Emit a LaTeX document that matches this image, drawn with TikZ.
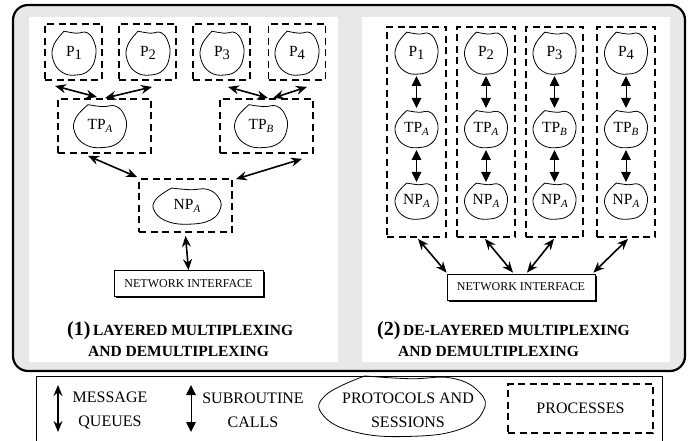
\documentclass[tikz,border=0pt]{standalone}
\usepackage{fontspec}
\setmainfont{Liberation Serif}
\usetikzlibrary{arrows.meta,shadows,calc}
\definecolor{panelgray}{RGB}{232,232,232}
\newcommand\blobaround[3]{%
  \begin{scope}[shift={(#1)},x=#2pt,y=#3pt]
    \draw[blobline] plot[smooth,tension=0.75] coordinates {(-0.45,0.97) (0.1,0.88) (0.6,0.9)
      (0.93,0.45) (0.98,-0.15) (0.7,-0.75) (0.1,-0.98) (-0.55,-0.85) (-0.95,-0.3)
      (-0.92,0.35) (-0.45,0.97)} -- cycle;
  \end{scope}}
\newcommand\Pn[1]{P\raisebox{-2.5pt}{\fontsize{14.5}{15}\selectfont #1}}
\newcommand\Tsub[2]{#1\raisebox{-3.5pt}{\fontsize{11}{12}\selectfont\itshape #2}}
\begin{document}
\begin{tikzpicture}[x=1pt,y=-1pt,
  blobline/.style={line width=0.8pt,line join=miter},
  lbl/.style={inner sep=0pt,font=\fontsize{15.5}{17}\selectfont},
  procbox/.style={draw,line width=1.8pt,dash pattern=on 7pt off 4.5pt,inner sep=0pt},
  nibox/.style={draw,fill=white,line width=0.7pt,inner sep=0pt,minimum height=26pt,
    font=\fontsize{12}{13}\selectfont,
    general shadow={fill=black,shadow xshift=1.6pt,shadow yshift=-1.6pt}},
  msg/.style={{Stealth[length=11pt,width=9pt]}-{Stealth[length=11pt,width=9pt]},line width=1.6pt},
  sub/.style={{Triangle[length=10pt,width=9.5pt]}-{Triangle[length=10pt,width=9.5pt]},line width=1pt},
  legtext/.style={align=center,inner sep=0pt,font=\fontsize{16}{24}\selectfont},
  titletext/.style={inner sep=0pt,anchor=base west,font=\fontsize{15.5}{17}\selectfont\bfseries}]
\useasboundingbox (0,0) rectangle (691,441);
% frame and panels
\draw[line width=2.2pt,fill=panelgray,rounded corners=15pt] (13,5) rectangle (685,371);
\fill[white] (29,17) rectangle (338,362);
\fill[white] (362,17) rectangle (670,362);

% ---------- left panel ----------
\node[procbox,minimum width=57pt,minimum height=56pt] (lb1) at (73.5,52) {};
\node[procbox,minimum width=57pt,minimum height=56pt] (lb2) at (147.5,52) {};
\node[procbox,minimum width=57pt,minimum height=56pt] (lb3) at (221.5,52) {};
\node[procbox,minimum width=57pt,minimum height=56pt] (lb4) at (297,52) {};
\node[lbl] (lp1) at (74,53) {\Pn{1}};
\node[lbl] (lp2) at (148,53) {\Pn{2}};
\node[lbl] (lp3) at (222,53) {\Pn{3}};
\node[lbl] (lp4) at (297,53) {\Pn{4}};
\blobaround{lp1}{22}{22.5}
\blobaround{lp2}{22}{22.5}
\blobaround{lp3}{22}{22.5}
\blobaround{lp4}{22}{22.5}

\node[procbox,minimum width=93pt,minimum height=54pt] (tpa) at (104.5,126) {};
\node[procbox,minimum width=93pt,minimum height=54pt] (tpb) at (266.5,126) {};
\node[lbl] (ltpa) at (100,126) {\Tsub{TP}{A}};
\node[lbl] (ltpb) at (261,126) {\Tsub{TP}{B}};
\blobaround{ltpa}{26.5}{22}
\blobaround{ltpb}{26.5}{22}

\node[procbox,minimum width=93pt,minimum height=53pt] (npa) at (185.5,205.5) {};
\node[lbl] (lnpa) at (187,206) {\Tsub{NP}{A}};
\blobaround{lnpa}{34}{18.5}

\node[nibox,minimum width=149pt] (ni) at (188.5,283.5) {NETWORK INTERFACE};

\draw[msg] ($(lb1.south)+(-18.5,5)$) -- ($(tpa.north)+(-7.5,-1)$);
\draw[msg] ($(lb2.south)+(4.5,6)$) -- ($(tpa.north)+(0.5,0)$);
\draw[msg] ($(lb3.south)+(6.5,6)$) -- ($(tpb.north)+(1.5,0)$);
\draw[msg] ($(lb4.south)+(10,6)$) -- ($(tpb.north)+(6.5,0)$);
\draw[msg] ($(tpa.south)+(-16.5,2)$) -- ($(npa.north west)+(-1,-1)$);
\draw[msg] ($(tpb.south)+(35.5,5)$) -- ($(npa.north east)+(3,1)$);
\draw[msg] ($(npa.south)+(0,3)$) -- (ni.north);

\node[titletext] (t1a) at (67,335) {{\fontsize{20}{22}\selectfont(1)}\,LAYERED MULTIPLEXING};
\node[titletext] (t1b) at (88,356) {AND DEMULTIPLEXING};

% ---------- right panel ----------
\foreach \i/\cx/\w/\tp in {1/416.5/59/A,2/486/58/A,3/554.5/57/B,4/626/58/B}{
  \node[procbox,minimum width=\w pt,minimum height=210pt] (rb\i) at (\cx,132) {};
  \node[lbl] (rp\i) at (\cx,53) {\Pn{\i}};
  \node[lbl] (rt\i) at (\cx,129) {\Tsub{TP}{\tp}};
  \node[lbl] (rn\i) at (\cx,201) {\Tsub{NP}{A}};
  \blobaround{rp\i}{21.5}{21.5}
  \blobaround{rt\i}{21.5}{19}
  \blobaround{rn\i}{21.5}{18.5}
  \draw[sub] ($(rp\i)+(0,23)$) -- ($(rt\i)+(0,-21)$);
  \draw[sub] ($(rt\i)+(0,21)$) -- ($(rn\i)+(0,-19)$);
}
\node[nibox,minimum width=148pt] (rni) at (521,287) {NETWORK INTERFACE};
\draw[msg] ($(rb1.south)+(1.5,1)$) -- ($(rni.north west)+(0,-1)$);
\draw[msg] ($(rb2.south)+(-1,1)$) -- ($(rni.north)+(-8,-1)$);
\draw[msg] ($(rb3.south)+(-0.5,1)$) -- ($(rni.north)+(6,-1)$);
\draw[msg] ($(rb4.south)+(2,1)$) -- ($(rni.north east)+(-2,-1)$);

\node[titletext] (t2a) at (377,335) {{\fontsize{20}{22}\selectfont(2)}\,DE-LAYERED MULTIPLEXING};
\node[titletext] (t2b) at (398,356) {AND DEMULTIPLEXING};

% ---------- legend ----------
\draw[line width=0.8pt,fill=white] (36,376) rectangle (662,444);
\coordinate (lm1) at (58,385);
\coordinate (lm2) at (58,432);
\coordinate (ls1) at (191,385);
\coordinate (ls2) at (191,432);
\draw[msg] (lm1) -- (lm2);
\draw[sub] (ls1) -- (ls2);
\node[legtext] (lgm) at (110,410) {MESSAGE\\QUEUES};
\node[legtext] (lgs) at (253,410) {SUBROUTINE\\CALLS};
\node[legtext] (lgp) at (408,410) {PROTOCOLS AND\\SESSIONS};
\coordinate (lgb) at (402,406);
\blobaround{lgb}{83}{31}
\node[procbox,minimum width=145pt,minimum height=49pt,font=\fontsize{16}{18}\selectfont] (lgr) at (580.5,408.5) {PROCESSES};
\end{tikzpicture}
\end{document}
